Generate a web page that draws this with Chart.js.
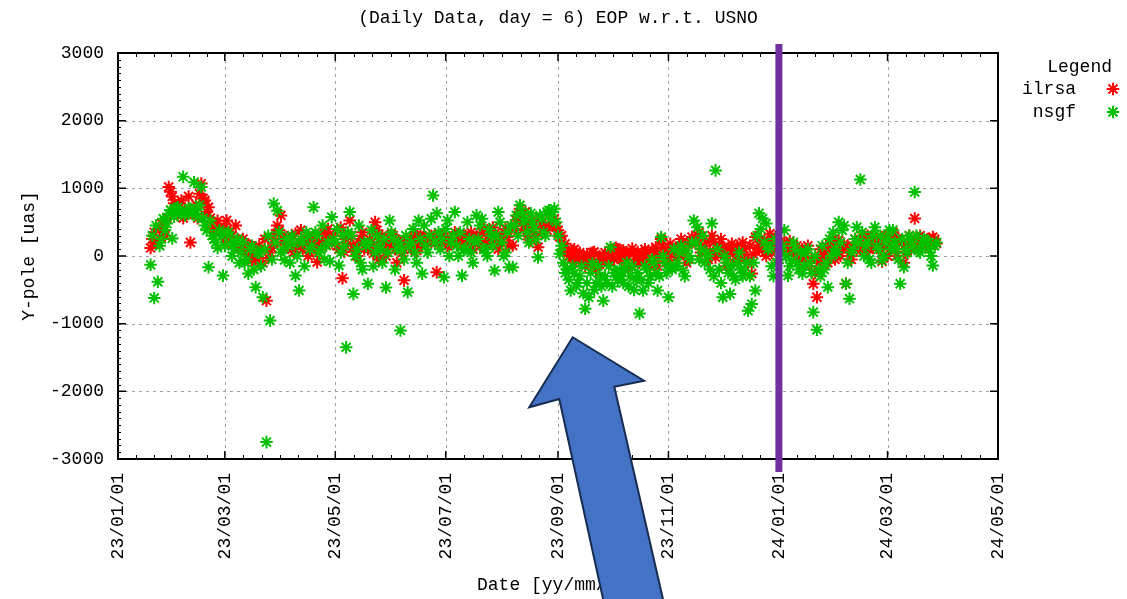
<!DOCTYPE html>
<html><head><meta charset="utf-8">
<script src="https://cdn.jsdelivr.net/npm/chart.js@4.4.1/dist/chart.umd.min.js"></script>
<style>html,body{margin:0;padding:0;background:#fff;overflow:hidden}</style>
</head><body>
<canvas id="c" width="1127" height="599"></canvas>
<script>
const titleText = '(Daily Data, day = 6) EOP w.r.t. USNO';
const xTitle = 'Date [yy/mm/dd]';
const yTitle = 'Y-pole [uas]';
const legendTitle = 'Legend';
// x axis: days since 2023-01-01
const tickDays = [0, 59, 120, 181, 243, 304, 365, 425, 486];
const tickLabels = ['23/01/01','23/03/01','23/05/01','23/07/01','23/09/01','23/11/01','24/01/01','24/03/01','24/05/01'];
const yTicks = [-3000, -2000, -1000, 0, 1000, 2000, 3000];
const markerDay = 365;

// even days
const daysA = [
18,20,22,24,26,28,30,32,34,36,38,40,42,44,46,48,50,52,54,56,
58,60,62,64,66,68,70,72,74,76,78,80,82,84,86,88,90,92,94,96,
98,100,102,104,106,108,110,112,114,116,118,120,122,124,126,128,130,132,134,136,
138,140,142,144,146,148,150,152,154,156,158,160,162,164,166,168,170,172,174,176,
178,180,182,184,186,188,190,192,194,196,198,200,202,204,206,208,210,212,214,216,
218,220,222,224,226,228,230,232,234,236,238,240,242,244,246,248,250,252,254,256,
258,260,262,264,266,268,270,272,274,276,278,280,282,284,286,288,290,292,294,296,
298,300,302,304,306,308,310,312,314,316,318,320,322,324,326,328,330,332,334,336,
338,340,342,344,346,348,350,352,354,356,358,360,362,364,366,368,370,372,374,376,
378,380,382,384,386,388,390,392,394,396,398,400,402,404,406,408,410,412,414,416,
418,420,422,424,426,428,430,432,434,436,438,440,442,444,446,448,450,452
];
// odd days
const daysB = [
19,21,23,25,27,29,31,33,35,37,39,41,43,45,47,49,51,53,55,57,
59,61,63,65,67,69,71,73,75,77,79,81,83,85,87,89,91,93,95,97,
99,101,103,105,107,109,111,113,115,117,119,121,123,125,127,129,131,133,135,137,
139,141,143,145,147,149,151,153,155,157,159,161,163,165,167,169,171,173,175,177,
179,181,183,185,187,189,191,193,195,197,199,201,203,205,207,209,211,213,215,217,
219,221,223,225,227,229,231,233,235,237,239,241,243,245,247,249,251,253,255,257,
259,261,263,265,267,269,271,273,275,277,279,281,283,285,287,289,291,293,295,297,
299,301,303,305,307,309,311,313,315,317,319,321,323,325,327,329,331,333,335,337,
339,341,343,345,347,349,351,353,355,357,359,361,363,365,367,369,371,373,375,377,
379,381,383,385,387,389,391,393,395,397,399,401,403,405,407,409,411,413,415,417,
419,421,423,425,427,429,431,433,435,437,439,441,443,445,447,449,451
];

const ilrsaA = [
120,350,200,480,300, 1020,880,650,720,560, 620,200,700,560,1070, 820,720,480,350,430,
300,525,350,160,250, 100,180,50,-60,120, 150,-100,-660,50,200, 450,600,250,120,300,
330,200,100,250,50, 300,-90,150,250,400, 200,350,100,-330,250, 525,150,0,250,100,
100,200,500,-50,300, 0,150,300,-100,200, -360,250,100,300,150, 150,250,300,230,-240,
200,280,150,250,350, 250,150,300,200,100, 300,150,400,250,200, 330,100,250,400,150,
155,525,700,400,300, 230,500,130,350,450, 600,450,425,280,100, 50,-50,100,-20,-100,
-150,-65,50,-200,0, -100,0,80,-50,100, -50,50,-150,110,0, -100,-90,50,-150,0,
-150,250,50,-20,100, -20,150,50,-100,200, 230,300,50,150,-50, 300,-20,150,100,-150,
50,-100,150,-50,100, -100,-260,280,100,200, 0,330,150,-100,100, 200,130,155,100,0,
100,0,-150,-410,-610, 100,55,-100,200,-50, 230,100,-410,0,150, 80,200,100,300,150,
230,150,-80,300,100, 350,0,230,-100,150, 100,555,200,250,150, 250,280,185
];
const ilrsaB = [
250,180,420,380,560, 950,780,600,820,700, 880,640,760,920,850, 650,560,400,520,380,
420,200,300,450,120, 250,60,150,0,-80, 80,250,-30,120,330, 380,200,280,150,60,
150,380,220,0,180, 100,220,350,160,280, 300,150,420,60,180, 300,80,200,350,160,
250,40,380,180,100, 200,320,100,230,50, 150,200,280,80,320, 260,180,250,320,200,
300,220,180,280,230, 180,300,250,350,220, 220,350,180,300,420, 250,200,350,280,450,
380,600,500,650,480, 400,300,550,420,380, 500,550,380,300,180, 0,80,-80,50,-30,
30,-100,60,-120,-40, 50,-80,20,120,-20, 80,-60,30,-100,60, 20,100,-50,80,130,
0,120,-80,180,60, 100,250,30,180,280, 180,350,100,220,80, 200,60,250,20,120,
180,0,80,200,-30, 150,20,120,250,50, 200,50,280,120,180, 80,220,60,150,-50,
50,150,-50,-250,-100, -30,150,80,250,100, 0,180,120,-50,250, 150,300,50,200,120,
250,100,180,0,300, 100,250,180,50,300, 200,120,300,180,250, 150,250
];

const nsgfA = [
-130,-620,-380,250,380, 620,260,700,640,1170, 650,700,1090,580,1020, 450,-165,300,200,380,
-290,330,180,100,250, 50,-100,-260,150,-460, 50,-610,-2750,-955,775, 670,50,-60,150,300,
-290,-510,200,350,100, 720,300,100,-50,200, 575,200,-140,300,-1350, 650,-560,100,-100,200,
-410,380,50,150,-100, -465,525,250,100,-1100, -50,-535,200,50,525, -260,150,300,895,630,
100,-315,525,200,650, 0,-290,100,250,-100, 600,450,100,0,300, -215,650,200,50,-165,
-165,600,750,500,350, 630,400,-20,550,300, 675,650,500,35,-100, -200,-510,-260,-400,-150,
-780,-610,-110,-400,-300, -660,-400,130,-250,-350, -300,-200,-450,-150,-350, -850,-510,-200,-300,-100,
-510,280,-100,-610,-200, -150,50,-215,80,-50, 525,425,100,-100,0, 480,1265,-200,-610,-100,
-560,-300,-100,-200,-250, -810,-710,-510,630,555, 480,130,-300,-100,50, 380,-290,-65,100,-200,
-260,50,-100,-830,-1090, -300,-200,-460,0,100, 500,380,-410,-630,100, 425,1130,0,200,-100,
425,100,-65,200,380, 380,100,-410,-165,50, 230,945,80,150,230, 100,-140,200
];
const nsgfB = [
300,450,150,550,480, 680,580,720,650,600, 700,620,680,750,560, 380,520,250,120,300,
150,350,0,220,-100, 200,-50,100,-200,50, -150,100,300,-50,200, 350,100,250,-100,180,
0,250,-150,300,150, 350,50,450,150,-80, 250,400,50,150,350, 300,0,450,-200,150,
200,-150,300,100,250, 50,350,-200,200,100, 300,150,400,-100,250, 450,50,550,200,350,
250,400,0,300,150, 350,100,500,50,200, 250,550,100,400,150, 300,500,0,350,450,
450,300,650,550,200, 500,250,600,350,650, 550,700,300,150,-250, -350,-150,-450,-300,-550,
-400,-250,-500,-150,-450, -300,-150,-450,-250,-200, -400,-100,-300,-500,-250, -350,-150,-400,-50,-250,
-300,0,-250,-150,100, -100,150,-300,0,200, 200,-50,300,50,-200, -300,100,-400,0,-250,
-150,-350,50,-300,-100, -300,-100,300,400,200, 100,-150,250,-50,150, 0,-150,200,-100,50,
-150,100,-250,0,-200, 150,-100,250,350,50, 200,450,-100,50,250, 200,350,150,-50,300,
150,300,0,250,100, 200,-50,250,100,300, 150,300,50,250,200, 0,150
];

// callout arrow outline in data units [day, value]
const arrowShape = [[251.1,-1201],[290.5,-1843],[274.1,-1931],[303.8,-5400],[270.6,-5400],[243.7,-2113],[227.1,-2236]];

const FONT = {family: '"Liberation Mono", "DejaVu Sans Mono", monospace', size: 18};
const FONT_CSS = '18px "Liberation Mono", "DejaVu Sans Mono", monospace';
const RED = '#ff0000', GREEN = '#00c000';

function pairs(ds, vs) { return ds.map((d, i) => ({x: d, y: vs[i]})); }

const gnuplotDecor = {
  id: 'gnuplotDecor',
  beforeDatasetsDraw(chart) {
    const {ctx, chartArea: a, scales: {x, y}} = chart;
    ctx.save();
    ctx.strokeStyle = '#a0a0a0'; ctx.lineWidth = 1; ctx.setLineDash([3, 4]);
    tickDays.forEach(d => {
      const px = Math.round(x.getPixelForValue(d)) + 0.5;
      if (px > a.left + 2 && px < a.right - 2) { ctx.beginPath(); ctx.moveTo(px, a.top); ctx.lineTo(px, a.bottom); ctx.stroke(); }
    });
    yTicks.forEach(v => {
      const py = Math.round(y.getPixelForValue(v)) + 0.5;
      if (py > a.top + 2 && py < a.bottom - 2) { ctx.beginPath(); ctx.moveTo(a.left, py); ctx.lineTo(a.right, py); ctx.stroke(); }
    });
    ctx.setLineDash([]);
    ctx.strokeStyle = '#000'; ctx.lineWidth = 1.5;
    ctx.beginPath();
    tickDays.forEach(d => {
      const px = x.getPixelForValue(d);
      ctx.moveTo(px, a.bottom); ctx.lineTo(px, a.bottom - 8);
      ctx.moveTo(px, a.top); ctx.lineTo(px, a.top + 8);
    });
    yTicks.forEach(v => {
      const py = y.getPixelForValue(v);
      ctx.moveTo(a.left, py); ctx.lineTo(a.left + 8, py);
      ctx.moveTo(a.right, py); ctx.lineTo(a.right - 8, py);
    });
    ctx.stroke();
    ctx.lineWidth = 1;
    ctx.beginPath();
    for (let i = 0; i < tickDays.length - 1; i++) {
      for (let k = 1; k < 6; k++) {
        const d = tickDays[i] + (tickDays[i + 1] - tickDays[i]) * k / 6;
        const px = Math.round(x.getPixelForValue(d)) + 0.5;
        ctx.moveTo(px, a.bottom); ctx.lineTo(px, a.bottom - 4);
        ctx.moveTo(px, a.top); ctx.lineTo(px, a.top + 4);
      }
    }
    for (let i = 0; i < yTicks.length - 1; i++) {
      for (let k = 1; k < 10; k++) {
        const py = Math.round(y.getPixelForValue(yTicks[i] + (yTicks[i + 1] - yTicks[i]) * k / 10)) + 0.5;
        ctx.moveTo(a.left, py); ctx.lineTo(a.left + 3, py);
      }
    }
    ctx.stroke();
    ctx.lineWidth = 2;
    ctx.strokeRect(a.left, a.top, a.right - a.left, a.bottom - a.top);
    ctx.restore();
  },
  afterDatasetsDraw(chart) {
    const {ctx, chartArea: a, scales: {x}} = chart;
    const px = x.getPixelForValue(markerDay);
    ctx.save();
    ctx.strokeStyle = '#7030a0'; ctx.lineWidth = 7;
    ctx.beginPath(); ctx.moveTo(px, a.top - 9); ctx.lineTo(px, a.bottom + 13); ctx.stroke();
    ctx.restore();
  },
  afterDraw(chart) {
    const {ctx, chartArea: a, scales: {x, y}} = chart;
    ctx.save();
    ctx.font = FONT_CSS; ctx.fillStyle = '#000';
    ctx.textAlign = 'center'; ctx.textBaseline = 'middle';
    ctx.fillText(titleText, (a.left + a.right) / 2, 18);
    ctx.textAlign = 'right';
    ctx.fillText(legendTitle, 1112, 67);
    chart.data.datasets.slice().sort((p, q) => p.legendRank - q.legendRank).forEach((ds, i) => {
      const ly = 89 + i * 23;
      ctx.fillStyle = '#000';
      ctx.fillText(ds.label, 1076, ly);
      ctx.strokeStyle = ds.borderColor; ctx.fillStyle = ds.borderColor; ctx.lineWidth = ds.borderWidth;
      Chart.helpers.drawPoint(ctx, {pointStyle: 'star', radius: ds.pointRadius, borderWidth: ds.borderWidth, rotation: 0}, 1113, ly);
    });
    ctx.beginPath();
    arrowShape.forEach(([d, v], i) => {
      const px = x.getPixelForValue(d), py = y.getPixelForValue(v);
      if (i === 0) ctx.moveTo(px, py); else ctx.lineTo(px, py);
    });
    ctx.closePath();
    ctx.fillStyle = '#4472c4'; ctx.fill();
    ctx.strokeStyle = '#172c51'; ctx.lineWidth = 2; ctx.lineJoin = 'miter'; ctx.stroke();
    ctx.restore();
  }
};

new Chart(document.getElementById('c'), {
  type: 'scatter',
  data: {
    datasets: [
      {label: 'ilrsa', legendRank: 0, order: 1, data: pairs(daysA, ilrsaA).concat(pairs(daysB, ilrsaB)),
       pointStyle: 'star', pointRadius: 6.3, borderWidth: 2, borderColor: RED, backgroundColor: RED, showLine: false},
      {label: 'nsgf', legendRank: 1, order: 0, data: pairs(daysA, nsgfA).concat(pairs(daysB, nsgfB)),
       pointStyle: 'star', pointRadius: 6.3, borderWidth: 2, borderColor: GREEN, backgroundColor: GREEN, showLine: false}
    ]
  },
  options: {
    responsive: false, animation: false, devicePixelRatio: 1,
    layout: {padding: {top: 53, right: 129, left: 0, bottom: 0}},
    plugins: {legend: {display: false}, title: {display: false}, tooltip: {enabled: false}},
    scales: {
      x: {
        type: 'linear', position: 'bottom', min: 0, max: 486,
        grid: {display: false, drawTicks: false}, border: {display: false},
        afterBuildTicks: s => { s.ticks = tickDays.map(v => ({value: v})); },
        afterFit: s => { s.height = 140; },
        ticks: {autoSkip: false, minRotation: 90, maxRotation: 90, padding: 14, color: '#000', font: FONT,
          callback: v => tickLabels[tickDays.indexOf(v)] ?? ''},
        title: {display: true, text: xTitle, color: '#000', font: FONT, padding: {top: 0, bottom: 3}}
      },
      y: {
        type: 'linear', position: 'left', min: -3000, max: 3000,
        grid: {display: false, drawTicks: false}, border: {display: false},
        afterBuildTicks: s => { s.ticks = yTicks.map(v => ({value: v})); },
        afterFit: s => { s.width = 118; },
        ticks: {padding: 14, color: '#000', font: FONT, callback: v => String(v)},
        title: {display: true, text: yTitle, color: '#000', font: FONT, padding: {top: 18, bottom: 0}}
      }
    }
  },
  plugins: [gnuplotDecor]
});
</script>
</body></html>
